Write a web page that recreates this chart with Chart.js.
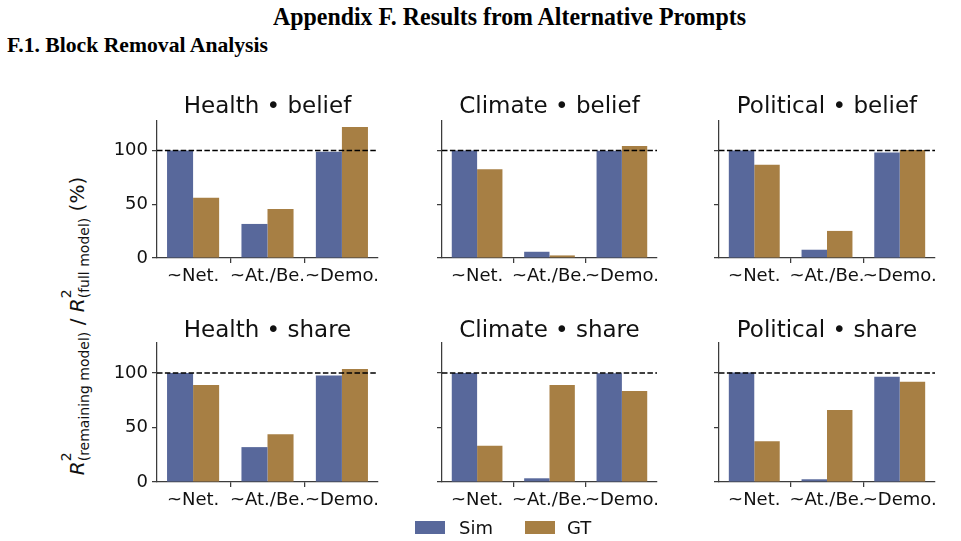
<!DOCTYPE html>
<html><head><meta charset="utf-8">
<script src="https://cdn.jsdelivr.net/npm/chart.js@4.4.1/dist/chart.umd.min.js"></script>
<style>
html,body{margin:0;padding:0;background:#fff;}
#page{position:relative;width:961px;height:541px;overflow:hidden;background:#fff;font-family:'DejaVu Sans',sans-serif;color:#000;}
.hdr{position:absolute;font-family:'Liberation Serif','Times New Roman',serif;font-weight:bold;white-space:nowrap;transform-origin:0 0;}
.ptitle{position:absolute;font-size:23px;line-height:23px;white-space:nowrap;transform:translateX(-50%);color:#111;}
canvas{position:absolute;}
#ylab{position:absolute;left:79px;top:326px;font-size:20px;line-height:20px;white-space:nowrap;transform:translate(-50%,-50%) rotate(-90deg);color:#111;}
#ylab i{font-style:italic;}
.ss{display:inline-block;position:relative;font-size:14px;line-height:14px;vertical-align:-5px;}
.sp{position:absolute;left:0;top:-18px;}
.legbox{position:absolute;width:30px;height:12.5px;}
.legtxt{position:absolute;font-size:18px;line-height:18px;white-space:nowrap;color:#111;}
</style></head>
<body><div id="page">
<div class="hdr" data-w="473" style="left:273px;top:4px;font-size:25px;line-height:25px;">Appendix F. Results from Alternative Prompts</div>
<div class="hdr" data-w="261" style="left:7px;top:35px;font-size:21px;line-height:21px;">F.1. Block Removal Analysis</div>
<div id="ylab"><i>R</i><span class="ss"><span class="sp">2</span><span class="sb">(remaining model)</span></span> / <i>R</i><span class="ss"><span class="sp">2</span><span class="sb">(full model)</span></span> (%)</div>
</div>
<script>
// ---- data ----
const categories = ['~Net.', '~At./Be.', '~Demo.'];
const seriesNames = ['Sim', 'GT'];
const panelTitles = ['Health • belief', 'Climate • belief', 'Political • belief',
                     'Health • share', 'Climate • share', 'Political • share'];
const simHealthBelief    = [100, 31.7, 98.8];
const gtHealthBelief     = [56, 45.5, 122];
const simClimateBelief   = [100, 5.8, 99.7];
const gtClimateBelief    = [82.5, 2.4, 104.3];
const simPoliticalBelief = [100, 7.7, 98.1];
const gtPoliticalBelief  = [86.8, 25.2, 100.6];
const simHealthShare     = [100, 32, 97.8];
const gtHealthShare      = [88.9, 43.7, 103.7];
const simClimateShare    = [100, 3.4, 99.8];
const gtClimateShare     = [33.2, 88.9, 83.4];
const simPoliticalShare  = [100.5, 2.5, 96.6];
const gtPoliticalShare   = [37.3, 66.1, 92];
const yTickValues = [0, 50, 100];
const referenceValue = 100;
const yMax = 127.5;

// ---- style ----
const SIM_COLOR = '#58689b';
const GT_COLOR = '#a77f44';
const AXIS = '#3c3c3c';
const FONT = 'DejaVu Sans';

const panels = [
  {title: panelTitles[0], sim: simHealthBelief, gt: gtHealthBelief, col: 0, row: 0},
  {title: panelTitles[1], sim: simClimateBelief, gt: gtClimateBelief, col: 1, row: 0},
  {title: panelTitles[2], sim: simPoliticalBelief, gt: gtPoliticalBelief, col: 2, row: 0},
  {title: panelTitles[3], sim: simHealthShare, gt: gtHealthShare, col: 0, row: 1},
  {title: panelTitles[4], sim: simClimateShare, gt: gtClimateShare, col: 1, row: 1},
  {title: panelTitles[5], sim: simPoliticalShare, gt: gtPoliticalShare, col: 2, row: 1}
];
const cols = [{l: 157, r: 378}, {l: 442, r: 657}, {l: 719, r: 935}];
const rows = [{t: 121, b: 258, titleTop: 94}, {t: 343, b: 482, titleTop: 317.5}];
const PADL = 60, PADT = 20, PADR = 30, PADB = 35;

const refLinePlugin = {
  id: 'refLine',
  afterDatasetsDraw(chart, args, opts) {
    const {ctx, chartArea: a, scales: {y}} = chart;
    const py = y.getPixelForValue(opts.value);
    ctx.save();
    ctx.beginPath();
    ctx.setLineDash([5.5, 2.4]);
    ctx.lineWidth = 1.5;
    ctx.strokeStyle = '#000';
    ctx.moveTo(a.left, py);
    ctx.lineTo(a.right, py);
    ctx.stroke();
    ctx.restore();
  }
};

const page = document.getElementById('page');

panels.forEach(p => {
  const c = cols[p.col], r = rows[p.row];
  const cv = document.createElement('canvas');
  const w = c.r - c.l + PADL + PADR, h = r.b - r.t + PADT + PADB;
  cv.width = w; cv.height = h;
  cv.style.width = w + 'px'; cv.style.height = h + 'px';
  cv.style.left = (c.l - PADL) + 'px'; cv.style.top = (r.t - PADT) + 'px';
  page.appendChild(cv);

  const t = document.createElement('div');
  t.className = 'ptitle';
  t.textContent = p.title;
  t.style.left = ((c.l + c.r) / 2) + 'px';
  t.style.top = r.titleTop + 'px';
  page.appendChild(t);

  new Chart(cv, {
    type: 'bar',
    data: {
      datasets: [
        {label: seriesNames[0], data: p.sim.map((v, i) => ({x: i, y: v})), backgroundColor: SIM_COLOR, borderWidth: 0},
        {label: seriesNames[1], data: p.gt.map((v, i) => ({x: i, y: v})), backgroundColor: GT_COLOR, borderWidth: 0}
      ]
    },
    options: {
      responsive: false, animation: false, devicePixelRatio: 1,
      layout: {padding: {left: 0, top: PADT, right: PADR, bottom: 0}},
      datasets: {bar: {categoryPercentage: 0.7, barPercentage: 1.0}},
      plugins: {legend: {display: false}, tooltip: {enabled: false}, title: {display: false},
                refLine: {value: referenceValue}},
      scales: {
        x: {
          type: 'linear', min: -0.485, max: 2.485, offset: false,
          afterBuildTicks: s => { s.ticks = categories.map((cat, i) => ({value: i})); },
          afterFit: s => { s.height = PADB; },
          ticks: {autoSkip: false, maxRotation: 0, minRotation: 0, padding: 3, color: '#111',
                  font: {family: FONT, size: 18},
                  callback: v => categories[v] !== undefined ? categories[v] : ''},
          grid: {display: true, drawOnChartArea: false, drawTicks: true, tickLength: 5, color: AXIS, lineWidth: 1.25},
          border: {display: true, color: AXIS, width: 1.25}
        },
        y: {
          type: 'linear', min: 0, max: yMax,
          afterBuildTicks: s => { s.ticks = yTickValues.map(v => ({value: v})); },
          afterFit: s => { s.width = PADL; },
          ticks: {padding: 4, color: '#111', font: {family: FONT, size: 18},
                  callback: v => p.col === 0 ? String(v) : ''},
          grid: {display: true, drawOnChartArea: false, drawTicks: true, tickLength: 5, color: AXIS, lineWidth: 1.25},
          border: {display: true, color: AXIS, width: 1.25}
        }
      }
    },
    plugins: [refLinePlugin]
  });
});

// legend
const legItems = [
  {name: seriesNames[0], color: SIM_COLOR, box: 415, text: 459},
  {name: seriesNames[1], color: GT_COLOR, box: 525, text: 567}
];
legItems.forEach(it => {
  const b = document.createElement('div');
  b.className = 'legbox'; b.style.left = it.box + 'px'; b.style.top = '521px'; b.style.background = it.color;
  page.appendChild(b);
  const tx = document.createElement('div');
  tx.className = 'legtxt'; tx.style.left = it.text + 'px'; tx.style.top = '519px'; tx.textContent = it.name;
  page.appendChild(tx);
});

// fit header widths
document.querySelectorAll('.hdr').forEach(el => {
  const target = parseFloat(el.dataset.w);
  const w = el.getBoundingClientRect().width;
  if (w > 0) el.style.transform = 'scaleX(' + (target / w) + ')';
});
</script>
</body></html>
